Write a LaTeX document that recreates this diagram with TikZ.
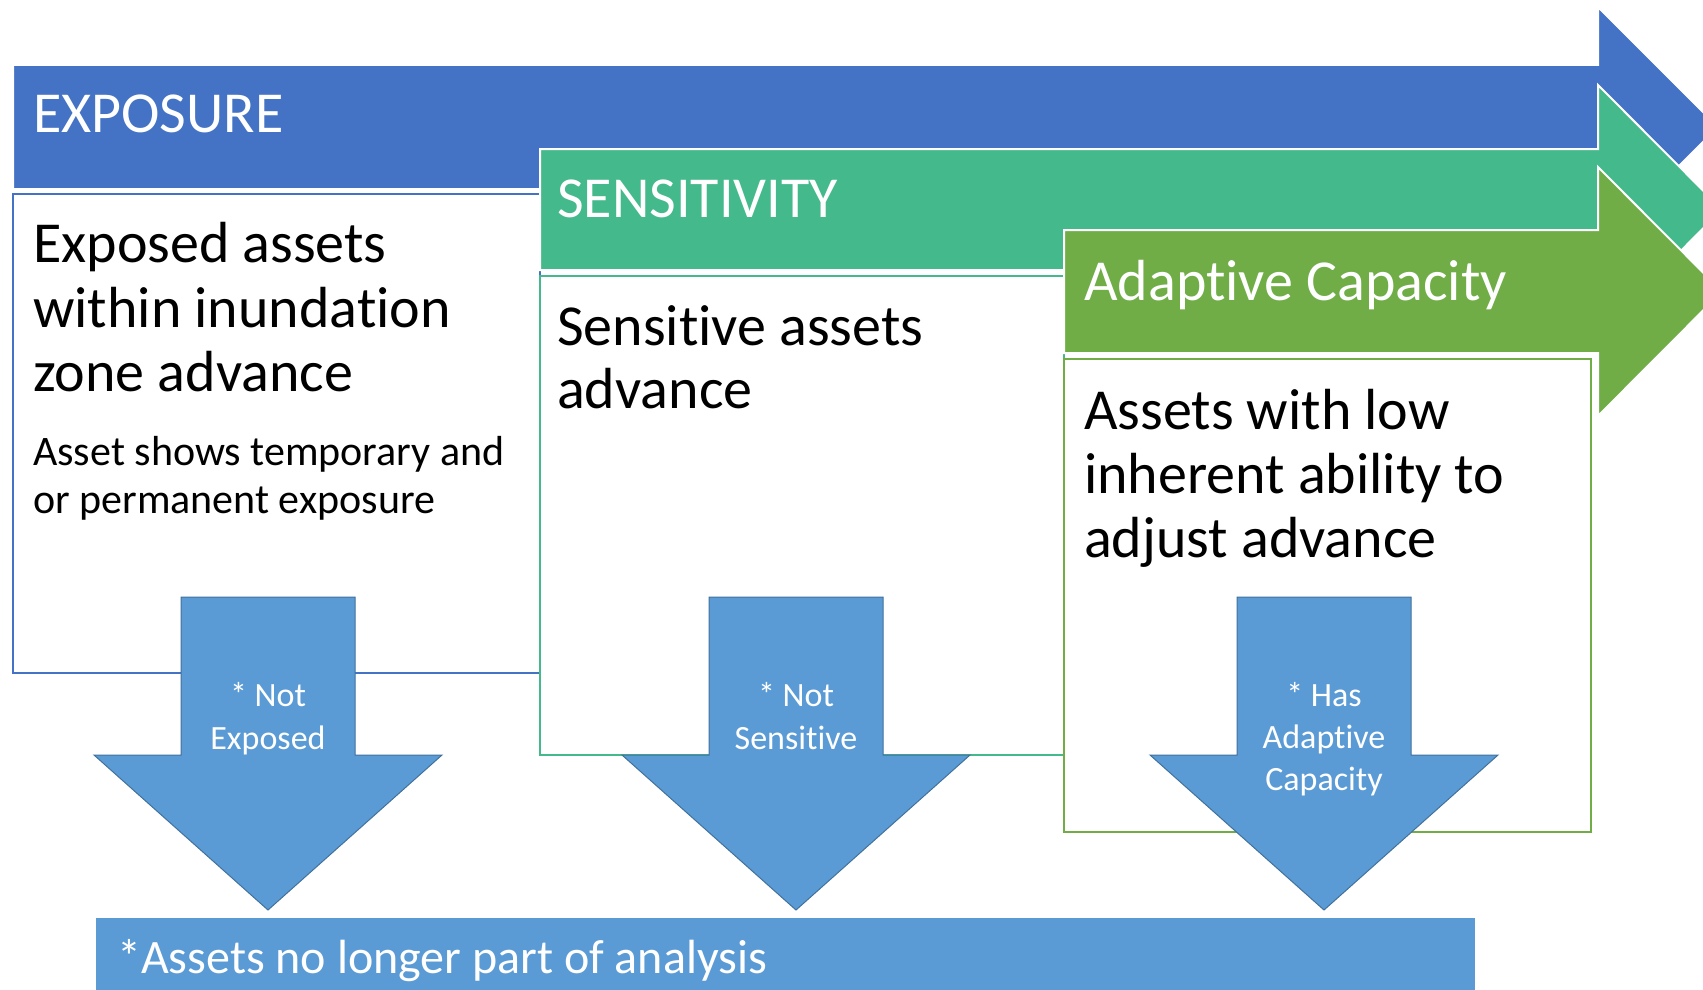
\documentclass[tikz,border=0pt]{standalone}
\usepackage{fontspec}
\setmainfont{Carlito}[Ligatures=NoCommon]
\definecolor{expblue}{HTML}{4472C4}
\definecolor{senteal}{HTML}{44BA8C}
\definecolor{adgreen}{HTML}{70AD47}
\definecolor{downblue}{HTML}{5B9BD5}
\definecolor{downedge}{HTML}{41719C}
\begin{document}
\begin{tikzpicture}[x=1pt,y=-1pt,
  bigarrow/.style={line width=2pt, draw=white},
  panel/.style={fill=white, line width=2pt},
  downarrow/.style={fill=downblue, draw=downedge, line width=1pt},
  headtext/.style={text=white, font=\fontsize{58}{65}\selectfont, anchor=base west, inner sep=0pt},
  bodytext/.style={text=black, font=\fontsize{58}{65}\selectfont, anchor=base west, inner sep=0pt},
  smalltext/.style={text=black, font=\fontsize{42}{48}\selectfont, anchor=base west, inner sep=0pt},
  downtext/.style={text=white, font=\fontsize{34}{40}\selectfont, anchor=base, inner sep=0pt},
  foottext/.style={text=white, font=\fontsize{48}{56}\selectfont, anchor=base west, inner sep=0pt}]
\useasboundingbox (0,0) rectangle (1703,990);
\clip (0,0) rectangle (1703,990);
\fill[white] (0,0) rectangle (1703,990);

% EXPOSURE arrow and panel
\path[bigarrow, fill=expblue] (13,65) -- (1598,65) -- (1598,7) -- (1718,127) -- (1598,247) -- (1598,189) -- (13,189) -- cycle;
\draw[panel, draw=expblue] (13,194) rectangle (540,673);

% SENSITIVITY arrow and panel
\path[bigarrow, fill=senteal] (540,149) -- (1598,149) -- (1598,85) -- (1722,209.5) -- (1598,334) -- (1598,270) -- (540,270) -- cycle;
\draw[panel, draw=senteal] (540,276) rectangle (1064,755);

% ADAPTIVE CAPACITY arrow and panel
\path[bigarrow, fill=adgreen] (1064,230) -- (1598,230) -- (1598,167) -- (1722,291.5) -- (1598,416) -- (1598,353) -- (1064,353) -- cycle;
\draw[panel, draw=adgreen] (1064,359) rectangle (1591,832);

% headers
\node[headtext] (hexp) at (33,132) {EXPOSURE};
\node[headtext] (hsen) at (557,217) {SENSITIVITY};
\node[headtext] (hadp) at (1084,300) {Adaptive Capacity};

% panel texts
\node[bodytext] (e1) at (33,262) {Exposed assets};
\node[bodytext] (e2) at (33,327) {within inundation};
\node[bodytext] (e3) at (33,391) {zone advance};
\node[smalltext] (e4) at (33,465) {Asset shows temporary and};
\node[smalltext] (e5) at (33,513) {or permanent exposure};

\node[bodytext] (s1) at (557,345) {Sensitive assets};
\node[bodytext] (s2) at (557,408) {advance};

\node[bodytext] (a1) at (1084,429) {Assets with low};
\node[bodytext] (a2) at (1084,493) {inherent ability to};
\node[bodytext] (a3) at (1084,557) {adjust advance};

% down arrows
\path[downarrow] (181,597) -- (355,597) -- (355,755) -- (442,755) -- (268,910) -- (94,755) -- (181,755) -- cycle;
\path[downarrow] (709,597) -- (883,597) -- (883,755) -- (970,755) -- (796,910) -- (622,755) -- (709,755) -- cycle;
\path[downarrow] (1237,597) -- (1411,597) -- (1411,755) -- (1498,755) -- (1324,910) -- (1150,755) -- (1237,755) -- cycle;

\node[downtext] (d1a) at (268,706) {* Not};
\node[downtext] (d1b) at (268,749) {Exposed};
\node[downtext] (d2a) at (796,706) {* Not};
\node[downtext] (d2b) at (796,749) {Sensitive};
\node[downtext] (d3a) at (1324,706) {* Has};
\node[downtext] (d3b) at (1324,748) {Adaptive};
\node[downtext] (d3c) at (1324,790) {Capacity};

% footer
\fill[downblue] (96,918) rectangle (1475,995);
\node[foottext] (foot) at (117,973) {*Assets no longer part of analysis};
\end{tikzpicture}
\end{document}
